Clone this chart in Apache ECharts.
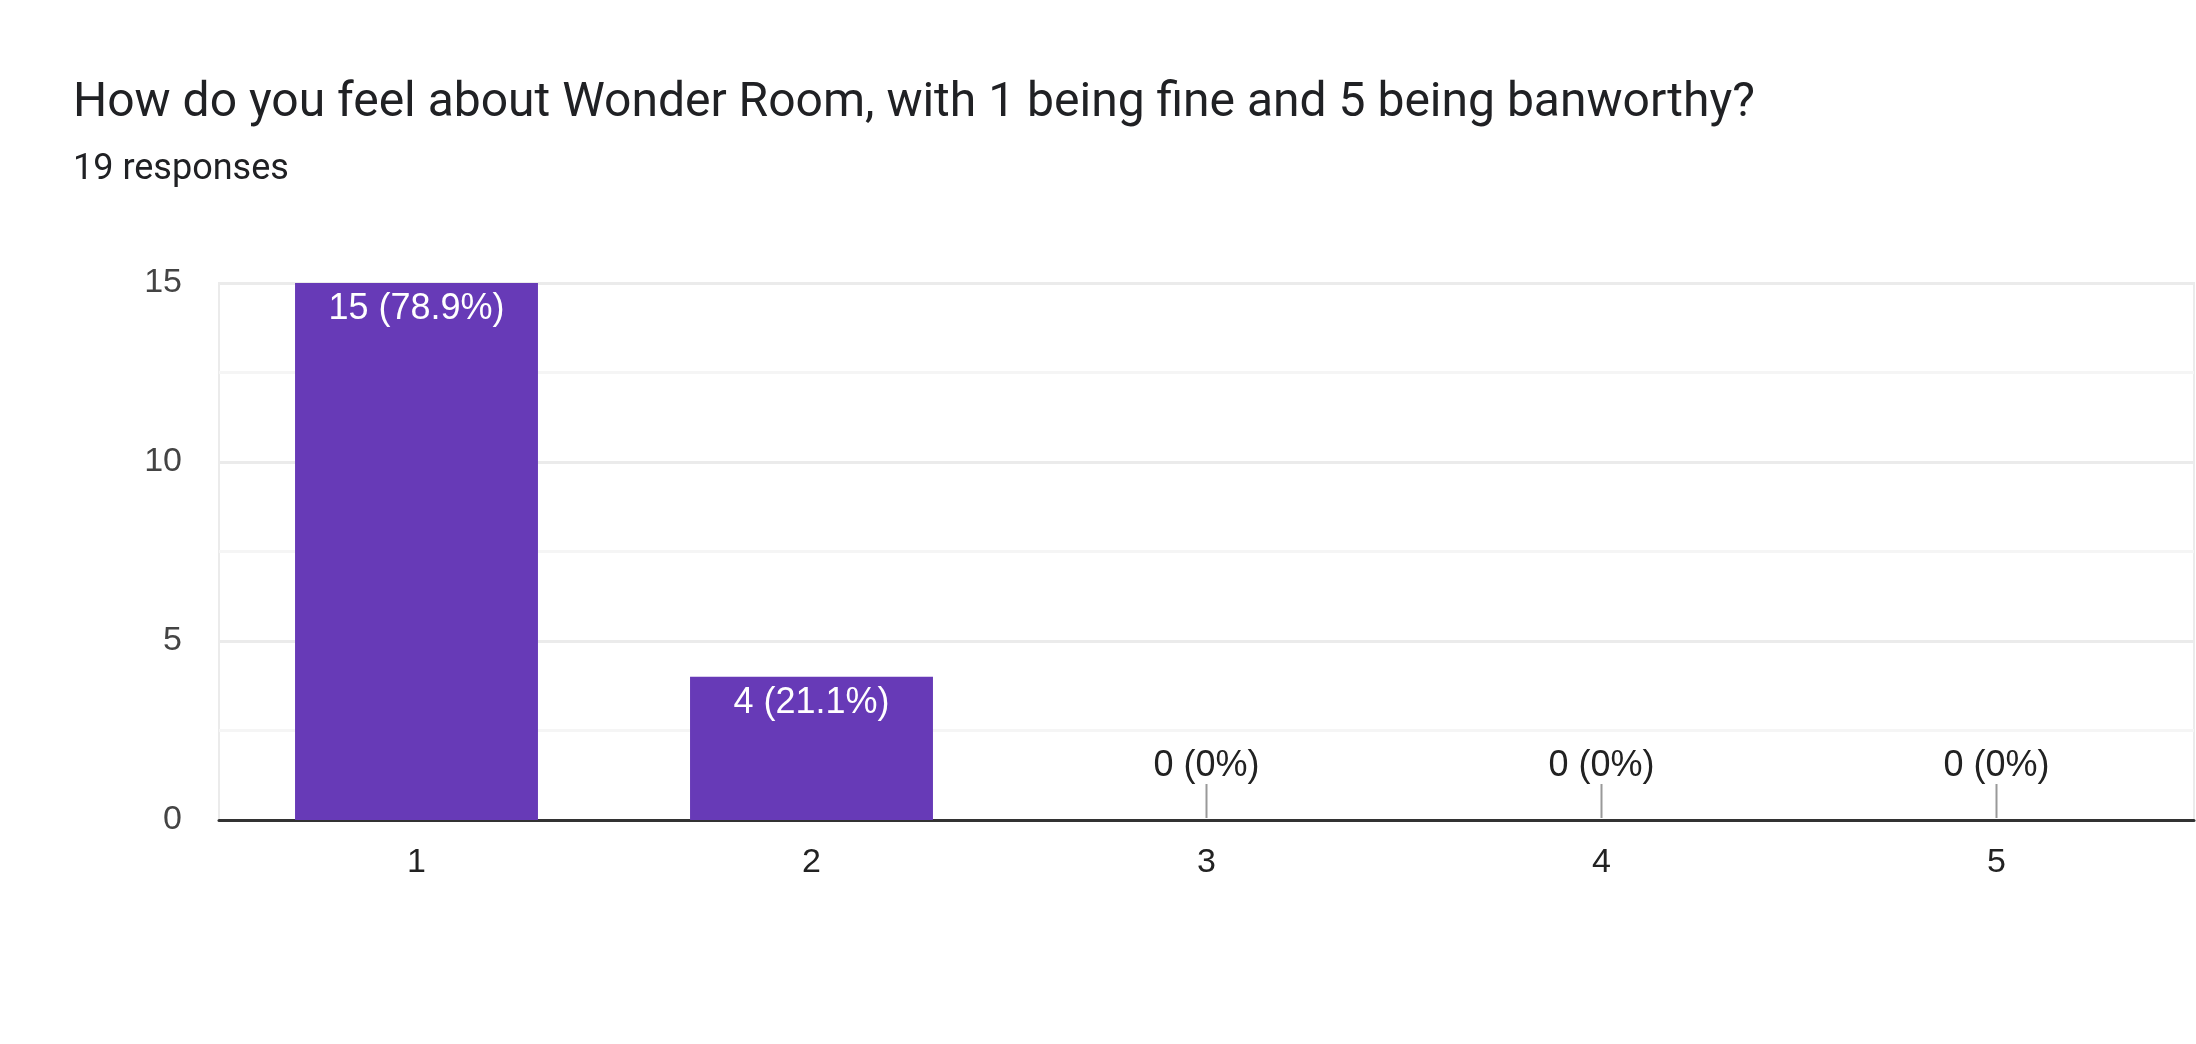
<!DOCTYPE html>
<html>
<head>
<meta charset="utf-8">
<script src="https://cdn.jsdelivr.net/npm/echarts@6/dist/echarts.min.js"></script>
<style>
html,body{margin:0;padding:0;background:#fff;}
#chart{width:2196px;height:1044px;}
</style>
</head>
<body>
<div id="chart"></div>
<script>
const titleText = "How do you feel about Wonder Room, with 1 being fine and 5 being banworthy?";
const subtitleText = "19 responses";
const categories = ["1", "2", "3", "4", "5"];
const counts = [15, 4, 0, 0, 0];
const percentLabels = ["78.9%", "21.1%", "0%", "0%", "0%"];
const yTicks = [0, 5, 10, 15];

const labelFor = i => counts[i] + " (" + percentLabels[i] + ")";
const TFONT = "Roboto, 'Liberation Sans', Arial, sans-serif";
const FONT = "'Liberation Sans', Arial, sans-serif";

const chart = echarts.init(document.getElementById('chart'), null, {renderer: 'canvas'});
chart.setOption({
  backgroundColor: '#ffffff',
  animation: false,
  title: [
    {text: titleText, left: 73, top: 80, padding: 0, textStyle: {fontFamily: TFONT, fontSize: 48, fontWeight: 'normal', color: '#202124'}},
    {text: subtitleText, left: 73, top: 152, padding: 0, textStyle: {fontFamily: TFONT, fontSize: 36, fontWeight: 'normal', color: '#202124'}}
  ],
  grid: {left: 219, right: 2, top: 283, bottom: 224, show: true, borderColor: '#ebebeb', borderWidth: 2, containLabel: false},
  xAxis: {
    type: 'category',
    data: categories,
    axisLine: {show: true, onZero: true, lineStyle: {color: '#333333', width: 3}},
    axisTick: {show: false},
    axisLabel: {fontFamily: FONT, fontSize: 34, color: '#222222', margin: 26}
  },
  yAxis: {
    type: 'value',
    min: yTicks[0],
    max: yTicks[yTicks.length - 1],
    interval: yTicks[1] - yTicks[0],
    axisLine: {show: false},
    axisTick: {show: false},
    axisLabel: {fontFamily: FONT, fontSize: 34, color: '#444444', margin: 37},
    splitLine: {show: true, lineStyle: {color: '#ebebeb', width: 3}},
    minorTick: {show: false, splitNumber: 2},
    minorSplitLine: {show: true, lineStyle: {color: '#f5f5f5', width: 3}}
  },
  series: [
    {
      type: 'bar',
      data: counts,
      barCategoryGap: '38.5%',
      itemStyle: {color: '#673ab7'},
      label: {
        show: true,
        position: 'insideTop',
        distance: 8,
        fontFamily: FONT,
        fontSize: 36,
        color: '#ffffff',
        formatter: p => p.value > 0 ? labelFor(p.dataIndex) : ''
      },
      z: 3
    },
    {
      type: 'custom',
      data: counts.map((v, i) => [i, v]),
      renderItem: function (params, api) {
        const v = api.value(1);
        if (v !== 0) return null;
        const p = api.coord([api.value(0), 0]);
        return {
          type: 'group',
          children: [
            {type: 'line', shape: {x1: p[0], y1: p[1] - 2, x2: p[0], y2: p[1] - 36}, style: {stroke: '#999999', lineWidth: 2}},
            {type: 'text', style: {text: labelFor(params.dataIndex), x: p[0], y: p[1] - 54, align: 'center', verticalAlign: 'middle', font: '36px ' + FONT, fill: '#222222'}}
          ]
        };
      },
      z: 4
    }
  ]
});
</script>
</body>
</html>
